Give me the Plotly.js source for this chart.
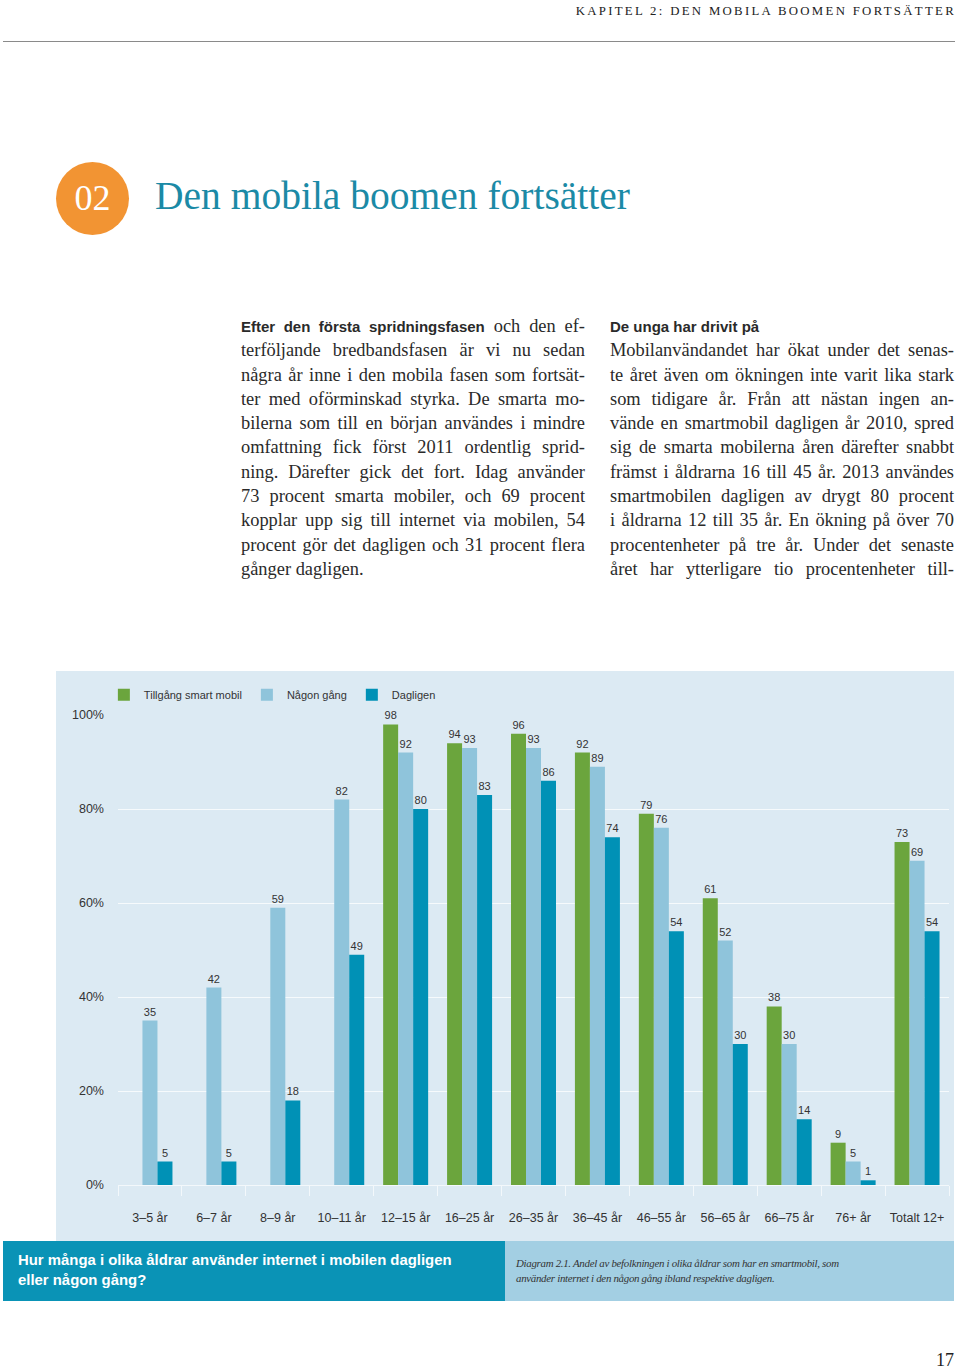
<!DOCTYPE html>
<html>
<head>
<meta charset="utf-8">
<script src="https://cdn.plot.ly/plotly-3.0.1.min.js"></script>
<style>
  html, body { margin:0; padding:0; background:#fff; }
  body { width:960px; height:1368px; position:relative; overflow:hidden; font-family:"Liberation Serif", serif; color:#222; }
  .hdr { position:absolute; right:4px; top:4px; font-size:12.8px; letter-spacing:2.3px; color:#222; white-space:nowrap; }
  .rule { position:absolute; left:3px; width:952px; top:41px; height:1px; background:#8a8a8a; }
  .circle { position:absolute; left:56px; top:162px; width:73px; height:73px; border-radius:50%; background:#f29433; color:#fff; font-size:36px; text-align:center; line-height:73px; }
  .title { position:absolute; left:155px; top:173px; font-size:39.5px; color:#1b8aa6; white-space:nowrap; }
  .col { position:absolute; top:314px; width:344px; font-size:18.4px; line-height:24.3px; color:#2a2a2a; }
  .col div { text-align:justify; text-align-last:justify; white-space:nowrap; height:24.3px; }
  .col div.last { text-align-last:left; }
  .b { font-family:"Liberation Sans", Arial, sans-serif; font-weight:bold; font-size:15px; }
  .panel { position:absolute; left:56px; top:671px; width:898px; height:570px; background:#dceaf3; }
  #chart { position:absolute; left:56px; top:671px; width:898px; height:570px; }
  .barL { position:absolute; left:3px; top:1241px; width:502px; height:60px; background:#0a93b6; }
  .barR { position:absolute; left:505px; top:1241px; width:449px; height:60px; background:#a3cfe3; }
  .barL div { position:absolute; left:15px; top:10px; font-family:"Liberation Sans", Arial, sans-serif; font-weight:bold; font-size:14.9px; line-height:19.5px; color:#fff; white-space:nowrap; }
  .barR div { position:absolute; left:11px; top:15px; font-style:italic; font-size:10.9px; line-height:15px; color:#333; white-space:nowrap; letter-spacing:-0.3px; }
  .pnum { position:absolute; right:6px; top:1350px; font-size:18px; color:#222; }
</style>
</head>
<body>
<div class="hdr">KAPITEL 2: DEN MOBILA BOOMEN FORTSÄTTER</div>
<div class="rule"></div>
<div class="circle">02</div>
<div class="title">Den mobila boomen fortsätter</div>

<div class="col" style="left:241px;">
  <div><span class="b">Efter den första spridningsfasen</span> och den ef-</div>
  <div>terföljande bredbandsfasen är vi nu sedan</div>
  <div>några år inne i den mobila fasen som fortsät-</div>
  <div>ter med oförminskad styrka. De smarta mo-</div>
  <div>bilerna som till en början användes i mindre</div>
  <div>omfattning fick först 2011 ordentlig sprid-</div>
  <div>ning. Därefter gick det fort. Idag använder</div>
  <div>73 procent smarta mobiler, och 69 procent</div>
  <div>kopplar upp sig till internet via mobilen, 54</div>
  <div>procent gör det dagligen och 31 procent flera</div>
  <div class="last">gånger dagligen.</div>
</div>

<div class="col" style="left:610px;">
  <div class="last"><span class="b">De unga har drivit på</span></div>
  <div>Mobilanvändandet har ökat under det senas-</div>
  <div>te året även om ökningen inte varit lika stark</div>
  <div>som tidigare år. Från att nästan ingen an-</div>
  <div>vände en smartmobil dagligen år 2010, spred</div>
  <div>sig de smarta mobilerna åren därefter snabbt</div>
  <div>främst i åldrarna 16 till 45 år. 2013 användes</div>
  <div>smartmobilen dagligen av drygt 80 procent</div>
  <div>i åldrarna 12 till 35 år. En ökning på över 70</div>
  <div>procentenheter på tre år. Under det senaste</div>
  <div>året har ytterligare tio procentenheter till-</div>
</div>

<div class="panel"></div>
<div id="chart"></div>

<div class="barL"><div>Hur många i olika åldrar använder internet i mobilen dagligen<br>eller någon gång?</div></div>
<div class="barR"><div>Diagram 2.1. Andel av befolkningen i olika åldrar som har en smartmobil, som<br>använder internet i den någon gång ibland respektive dagligen.</div></div>
<div class="pnum">17</div>

<script>
const categories = ["3–5 år","6–7 år","8–9 år","10–11 år","12–15 år","16–25 år","26–35 år","36–45 år","46–55 år","56–65 år","66–75 år","76+ år","Totalt 12+"];
const tillgang = [null,null,null,null,98,94,96,92,79,61,38,9,73];
const nagonGang = [35,42,59,82,92,93,93,89,76,52,30,5,69];
const dagligen = [5,5,18,49,80,83,86,74,54,30,14,1,54];
const seriesNames = ["Tillgång smart mobil","Någon gång","Dagligen"];
const seriesColors = ["#6ba53d","#8fc4db","#0091b6"];
const yTicks = [0,20,40,60,80,100];
const yTickLabels = ["0%","20%","40%","60%","80%","100%"];

const font = "Liberation Sans, Arial, sans-serif";
const mk = (vals, i) => ({
  type: "bar",
  name: seriesNames[i],
  x: categories,
  y: vals,
  marker: { color: seriesColors[i], line: { width: 0 } },
  text: vals.map(v => v === null ? "" : String(v)),
  textposition: "outside",
  constraintext: "none",
  cliponaxis: false,
  textfont: { family: font, size: 11, color: "#333" },
  hoverinfo: "skip"
});

const data = [mk(tillgang,0), mk(nagonGang,1), mk(dagligen,2)];

const layout = {
  width: 898, height: 570,
  margin: { l: 62, r: 5, t: 44, b: 56 },
  paper_bgcolor: "rgba(0,0,0,0)",
  plot_bgcolor: "rgba(0,0,0,0)",
  barmode: "group",
  bargap: 0.296,
  bargroupgap: 0,
  font: { family: font, color: "#333" },
  showlegend: true,
  legend: {
    orientation: "h", x: -0.017, xanchor: "left", y: 1.012, yanchor: "bottom",
    font: { family: font, size: 11, color: "#333" },
    bgcolor: "rgba(0,0,0,0)", itemwidth: 30, traceorder: "normal"
  },
  xaxis: {
    type: "category",
    range: [-0.5, 12.5],
    ticks: "outside", tickson: "boundaries", ticklen: 10, tickcolor: "#f3f8fb", tickwidth: 1,
    tickfont: { family: font, size: 12.5, color: "#333" },
    ticklabelstandoff: 23,
    showline: false, showgrid: false, fixedrange: true
  },
  yaxis: {
    range: [0, 100],
    tickvals: yTicks, ticktext: yTickLabels,
    tickfont: { family: font, size: 12.5, color: "#333" },
    ticklabelstandoff: 13,
    showgrid: true, gridcolor: "rgba(255,255,255,0.75)", gridwidth: 1,
    zeroline: true, zerolinecolor: "#f3f8fb", zerolinewidth: 1,
    showline: false, fixedrange: true
  }
};

Plotly.newPlot("chart", data, layout, { displayModeBar: false, staticPlot: true });
</script>
</body>
</html>
